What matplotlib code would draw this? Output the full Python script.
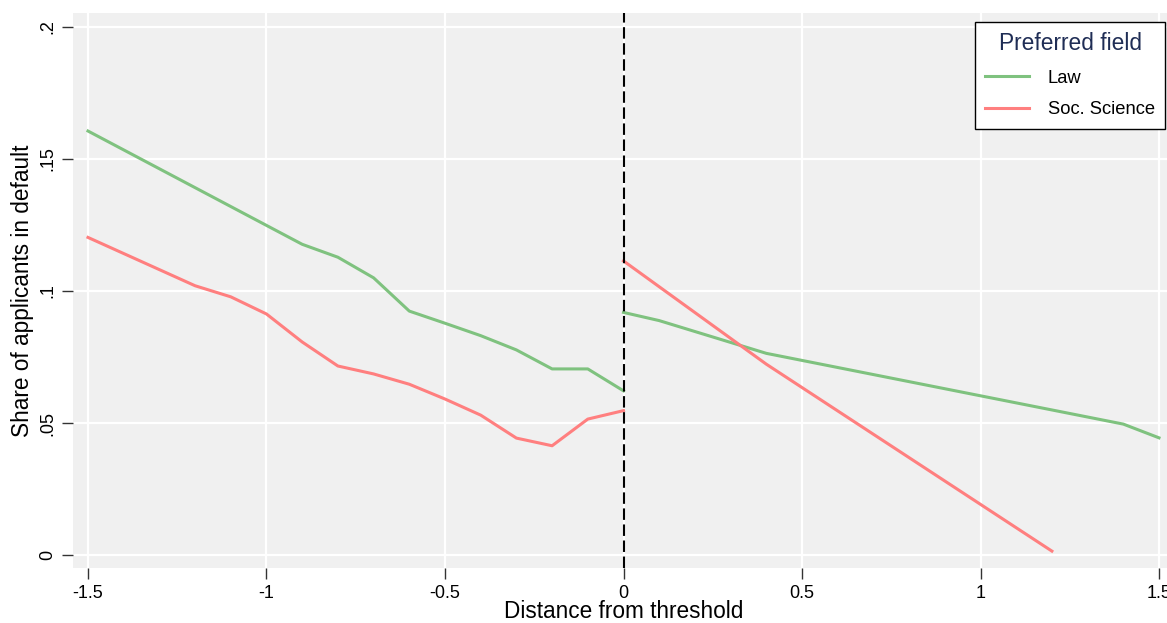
import matplotlib
matplotlib.use("Agg")
import matplotlib.pyplot as plt

plt.rcParams['font.family'] = ['Liberation Sans', 'DejaVu Sans']

# Law (preferred field), left and right of the threshold
law_x_left = [-1.5, -0.9, -0.8, -0.7, -0.6, -0.5, -0.4, -0.3, -0.2, -0.1, 0.0]
law_y_left = [0.1606, 0.1177, 0.1128, 0.1050, 0.0924, 0.0878, 0.0831, 0.0777, 0.0705, 0.0705, 0.0622]
law_x_right = [0.0, 0.1, 0.4, 1.4, 1.5]
law_y_right = [0.0919, 0.0888, 0.0764, 0.0496, 0.0444]

# Soc. Science
soc_x_left = [-1.5, -1.2, -1.1, -1.0, -0.9, -0.8, -0.7, -0.6, -0.5, -0.4, -0.3, -0.2, -0.1, 0.0]
soc_y_left = [0.1203, 0.1020, 0.0978, 0.0913, 0.0807, 0.0716, 0.0686, 0.0647, 0.0591, 0.0530, 0.0443, 0.0414, 0.0515, 0.0547]
soc_x_right = [0.0, 0.4, 1.2]
soc_y_right = [0.1114, 0.0723, 0.0015]

x_ticks = [-1.5, -1, -0.5, 0, 0.5, 1, 1.5]
x_ticklabels = ['-1.5', '-1', '-0.5', '0', '0.5', '1', '1.5']
y_ticks = [0, 0.05, 0.1, 0.15, 0.2]
y_ticklabels = ['0', '.05', '.1', '.15', '.2']

green = '#7fc27f'
red = '#ff7f7f'

W, H = 1167, 623
fig = plt.figure(figsize=(W / 100, H / 100), dpi=100, facecolor='white')
ax = fig.add_axes([73 / W, 55 / H, 1101 / W, 555 / H])
ax.set_facecolor('#f0f0f0')
for s in ax.spines.values():
	s.set_visible(False)

ax.grid(True, color='white', linewidth=1.6)
ax.set_axisbelow(True)

ax.plot(law_x_left, law_y_left, color=green, lw=2.2, label='Law')
ax.plot(soc_x_left, soc_y_left, color=red, lw=2.2, label='Soc. Science')
ax.plot(law_x_right, law_y_right, color=green, lw=2.2)
ax.plot(soc_x_right, soc_y_right, color=red, lw=2.2)

ax.axvline(0, color='black', lw=1.5, linestyle=(0, (5.5, 2.2)), zorder=5)

ax.set_xlim(-1.542, 1.542)
ax.set_ylim(-0.0049, 0.2053)
ax.set_xticks(x_ticks)
ax.set_xticklabels(x_ticklabels)
ax.set_yticks(y_ticks)
ax.set_yticklabels(y_ticklabels, rotation=90, va='center')
ax.tick_params(axis='both', direction='out', length=8, width=1, color='#333333',
	labelsize=13, pad=4)

ax.set_xlabel('Distance from threshold', fontsize=16.3, labelpad=-1.5)
ax.set_ylabel('Share of applicants in default', fontsize=16.3, labelpad=4)

leg = ax.legend(title='Preferred field', loc='upper right',
	bbox_to_anchor=(1165 / W, 1 - 22 / H), bbox_transform=fig.transFigure,
	borderaxespad=0, fontsize=13.2, title_fontsize=16.4, fancybox=False,
	framealpha=1, edgecolor='black', handlelength=2.35, handletextpad=1.05,
	labelspacing=0.8, borderpad=0.55)
leg.get_frame().set_linewidth(1)
leg.get_title().set_color('#1f2d55')

fig.savefig('out.png', dpi=100)
